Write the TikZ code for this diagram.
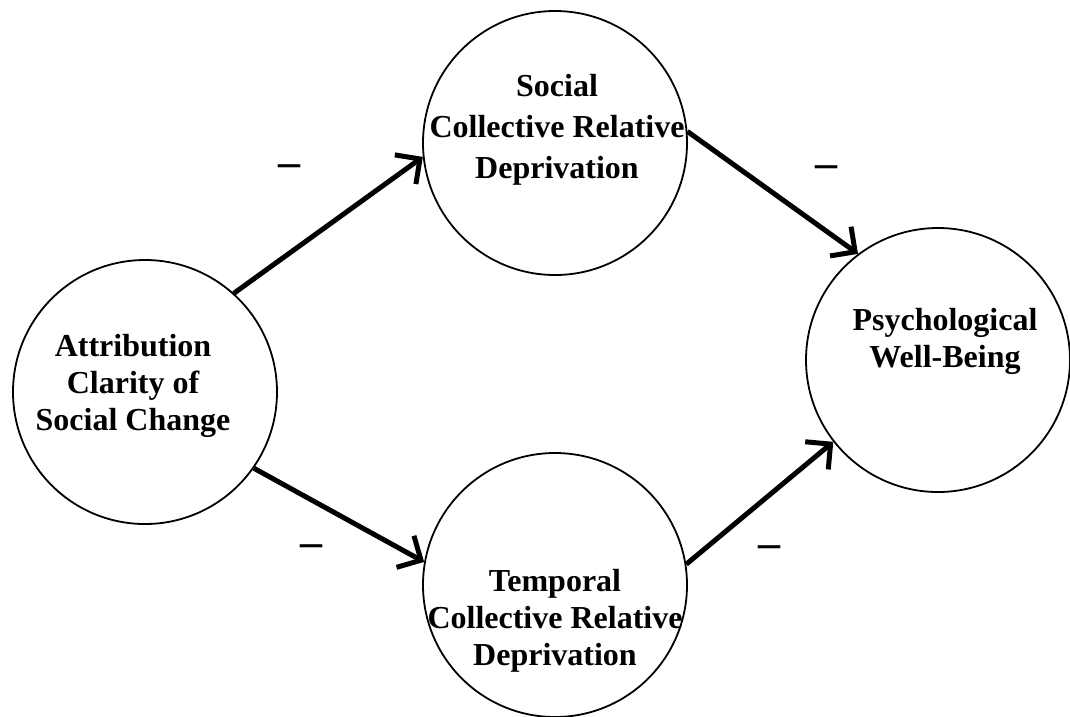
\documentclass[tikz,border=0pt]{standalone}
\usepackage{fontspec}
\setmainfont{Liberation Serif}
\usetikzlibrary{arrows.meta}
\begin{document}
\begin{tikzpicture}[x=1pt,y=-1pt,
  varcircle/.style={draw=black, line width=1.8pt, circle, minimum size=264pt, inner sep=0pt},
  vartext/.style={align=center, font=\bfseries\fontsize{32}{37}\selectfont, inner sep=0pt},
  patharrow/.style={line width=5pt, -{Straight Barb[length=18pt,width=36pt,line width=5pt]}},
  signlabel/.style={font=\bfseries\fontsize{44}{44}\selectfont, inner sep=0pt}]
\useasboundingbox (0,0) rectangle (1070,716);
\fill[white] (0,0) rectangle (1070,716);
% circles
\node[varcircle] (L) at (145,392) {};
\node[varcircle] (T) at (555,143) {};
\node[varcircle] (B) at (555,585) {};
\node[varcircle] (R) at (938,360) {};
% texts
\node[vartext] (Ltext) at (133,386) {Attribution\\Clarity of\\Social Change};
\node[vartext, font=\bfseries\fontsize{32}{41}\selectfont] (Ttext) at (557,130) {Social\\Collective Relative\\Deprivation};
\node[vartext] (Btext) at (555,621) {Temporal\\Collective Relative\\Deprivation};
\node[vartext] (Rtext) at (945,341) {Psychological\\Well-Being};
% arrows
\draw[patharrow] (L.48) -- (T.186);
\draw[patharrow] (T.5.6) -- (R.127);
\draw[patharrow] (L.-35) -- (B.170);
\draw[patharrow] (B.9.5) -- (R.218);
% signs
\node[signlabel] (s1) at (289,171) {–};
\node[signlabel] (s2) at (826,172) {–};
\node[signlabel] (s3) at (311,551) {–};
\node[signlabel] (s4) at (769,552) {–};
\end{tikzpicture}
\end{document}
